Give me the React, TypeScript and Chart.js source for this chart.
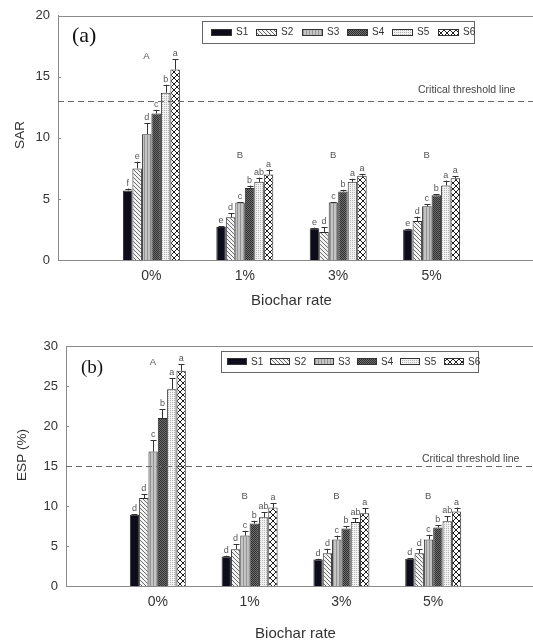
import React, { useEffect, useRef } from 'react';
import { Chart, registerables } from 'chart.js';

Chart.register(...registerables);

// ---------- data ----------
const categories = ['', '0%', '1%', '3%', '5%', ''];
const seriesNames = ['S1', 'S2', 'S3', 'S4', 'S5', 'S6'];
const groupLetters = ['A', 'B', 'B', 'B'];

// SAR (panel a), values per biochar rate 0%,1%,3%,5%
const sarS1 = [5.7, 2.7, 2.6, 2.5];
const sarS2 = [7.5, 3.5, 2.3, 3.2];
const sarS3 = [10.3, 4.7, 4.7, 4.4];
const sarS4 = [12.0, 5.9, 5.6, 5.3];
const sarS5 = [13.7, 6.4, 6.4, 6.1];
const sarS6 = [15.6, 7.0, 6.9, 6.7];
const sarErrS1 = [0.15, 0.05, 0.05, 0.05];
const sarErrS2 = [0.55, 0.35, 0.4, 0.35];
const sarErrS3 = [0.9, 0.05, 0.05, 0.15];
const sarErrS4 = [0.3, 0.2, 0.15, 0.1];
const sarErrS5 = [0.65, 0.35, 0.25, 0.4];
const sarErrS6 = [0.85, 0.4, 0.15, 0.15];
const sarLetS1 = ['f', 'e', 'e', 'e'];
const sarLetS2 = ['e', 'd', 'd', 'd'];
const sarLetS3 = ['d', 'c', 'c', 'c'];
const sarLetS4 = ['c', 'b', 'b', 'b'];
const sarLetS5 = ['b', 'ab', 'a', 'a'];
const sarLetS6 = ['a', 'a', 'a', 'a'];
const sarGroupLetterY = [16.7, 8.6, 8.6, 8.6];
const sarThreshold = 13;
const sarTicks = [0, 5, 10, 15, 20];

// ESP (panel b)
const espS1 = [8.9, 3.7, 3.3, 3.4];
const espS2 = [11.0, 4.6, 4.1, 4.1];
const espS3 = [16.8, 6.3, 5.8, 5.8];
const espS4 = [21.0, 7.8, 7.2, 7.3];
const espS5 = [24.6, 8.6, 8.0, 8.1];
const espS6 = [26.9, 9.8, 9.1, 9.3];
const espErrS1 = [0.1, 0.1, 0.1, 0.1];
const espErrS2 = [0.5, 0.6, 0.55, 0.5];
const espErrS3 = [1.4, 0.6, 0.5, 0.6];
const espErrS4 = [1.1, 0.35, 0.3, 0.3];
const espErrS5 = [1.4, 0.6, 0.45, 0.6];
const espErrS6 = [0.8, 0.55, 0.6, 0.5];
const espLetS1 = ['d', 'd', 'd', 'd'];
const espLetS2 = ['d', 'd', 'd', 'd'];
const espLetS3 = ['c', 'c', 'c', 'c'];
const espLetS4 = ['b', 'b', 'b', 'b'];
const espLetS5 = ['a', 'ab', 'ab', 'ab'];
const espLetS6 = ['a', 'a', 'a', 'a'];
const espGroupLetterY = [28.0, 11.2, 11.2, 11.2];
const espThreshold = 15;
const espTicks = [0, 5, 10, 15, 20, 25, 30];

const SANS = '"Liberation Sans", Arial, Helvetica, sans-serif';
const SERIF = '"Liberation Serif", "Times New Roman", serif';

// ---------- patterns ----------
function makePattern(kind: string): any {
  if (kind === 'solid') return '#0c0c1a';
  const c = document.createElement('canvas');
  const g = c.getContext('2d') as CanvasRenderingContext2D;
  if (kind === 'diag') {
    c.width = 4; c.height = 4;
    g.fillStyle = '#f4f4f4'; g.fillRect(0, 0, 4, 4);
    g.strokeStyle = '#6a6a6a'; g.lineWidth = 1;
    g.beginPath();
    g.moveTo(-1, -1); g.lineTo(5, 5);
    g.moveTo(-1, 3); g.lineTo(1, 5);
    g.moveTo(3, -1); g.lineTo(5, 1);
    g.stroke();
  } else if (kind === 'vert') {
    c.width = 3; c.height = 1;
    g.fillStyle = '#c4c4c4'; g.fillRect(0, 0, 3, 1);
    g.fillStyle = '#949494'; g.fillRect(0, 0, 1, 1);
  } else if (kind === 'dark') {
    c.width = 2; c.height = 2;
    g.fillStyle = '#707070'; g.fillRect(0, 0, 2, 2);
    g.fillStyle = '#2e2e2e'; g.fillRect(0, 0, 1, 1); g.fillRect(1, 1, 1, 1);
  } else if (kind === 'dots') {
    c.width = 2; c.height = 2;
    g.fillStyle = '#f2f2f2'; g.fillRect(0, 0, 2, 2);
    g.fillStyle = '#b4b4b4'; g.fillRect(0, 0, 1, 1);
  } else if (kind === 'cross') {
    c.width = 6; c.height = 6;
    g.fillStyle = '#ffffff'; g.fillRect(0, 0, 6, 6);
    g.strokeStyle = '#1e1e1e'; g.lineWidth = 1;
    g.beginPath();
    g.moveTo(0, 0); g.lineTo(6, 6);
    g.moveTo(6, 0); g.lineTo(0, 6);
    g.stroke();
  }
  return g.createPattern(c, 'repeat');
}
const patternKinds = ['solid', 'diag', 'vert', 'dark', 'dots', 'cross'];

interface PanelCfg {
  values: number[][];
  errors: number[][];
  letters: string[][];
  groupLetterY: number[];
  threshold: number;
  ticks: number[];
  yTitle: string;
  panelLabel: string;
  height: number;
  top: number;
  padTop: number;
  left: number;
  right: number;
  xAxisH: number;
  xTitlePad: number;
  yTitlePos: [number, number];
  labelPos: [number, number, number];
  threshTextPos: [number, number];
  legend: { x: number; y: number; w: number; h: number; x0: number; step: number; sw: number; sh: number; tdx: number };
}

const sarCfg: PanelCfg = {
  values: [sarS1, sarS2, sarS3, sarS4, sarS5, sarS6],
  errors: [sarErrS1, sarErrS2, sarErrS3, sarErrS4, sarErrS5, sarErrS6],
  letters: [sarLetS1, sarLetS2, sarLetS3, sarLetS4, sarLetS5, sarLetS6],
  groupLetterY: sarGroupLetterY,
  threshold: sarThreshold,
  ticks: sarTicks,
  yTitle: 'SAR',
  panelLabel: '(a)',
  height: 320,
  top: 0,
  padTop: 15,
  left: 58,
  right: 528,
  xAxisH: 60,
  xTitlePad: 10,
  yTitlePos: [20, 135],
  labelPos: [72, 36, 22],
  threshTextPos: [418, 90],
  legend: { x: 202, y: 21, w: 272, h: 22, x0: 211, step: 45.3, sw: 21, sh: 7, tdx: 25 },
};

const espCfg: PanelCfg = {
  values: [espS1, espS2, espS3, espS4, espS5, espS6],
  errors: [espErrS1, espErrS2, espErrS3, espErrS4, espErrS5, espErrS6],
  letters: [espLetS1, espLetS2, espLetS3, espLetS4, espLetS5, espLetS6],
  groupLetterY: espGroupLetterY,
  threshold: espThreshold,
  ticks: espTicks,
  yTitle: 'ESP (%)',
  panelLabel: '(b)',
  height: 323,
  top: 320,
  padTop: 26,
  left: 66,
  right: 527,
  xAxisH: 57,
  xTitlePad: 0,
  yTitlePos: [22, 135],
  labelPos: [81, 48, 19],
  threshTextPos: [422, 139],
  legend: { x: 221, y: 31, w: 257, h: 21, x0: 227, step: 43.3, sw: 20, sh: 7, tdx: 24 },
};

function makeAnnotPlugin(cfg: PanelCfg) {
  return {
    id: 'annot',
    afterDatasetsDraw(chart: any) {
      const ctx: CanvasRenderingContext2D = chart.ctx;
      const area = chart.chartArea;
      const xs = chart.scales.x;
      const ys = chart.scales.y;
      const W = chart.width;
      ctx.save();

      // frame extension: top line and axis extension to the right edge
      ctx.strokeStyle = '#8a8a8a';
      ctx.lineWidth = 1;
      ctx.beginPath();
      ctx.moveTo(area.left, Math.round(area.top) + 0.5);
      ctx.lineTo(W, Math.round(area.top) + 0.5);
      ctx.moveTo(area.right, Math.round(area.bottom) + 0.5);
      ctx.lineTo(W, Math.round(area.bottom) + 0.5);
      ctx.stroke();

      // inward y ticks
      ctx.beginPath();
      ys.ticks.forEach((t: any) => {
        const y = Math.round(ys.getPixelForValue(t.value)) + 0.5;
        ctx.moveTo(area.left, y);
        ctx.lineTo(area.left + 3, y);
      });
      ctx.stroke();

      // error bars and letters
      chart.data.datasets.forEach((ds: any, i: number) => {
        const meta = chart.getDatasetMeta(i);
        meta.data.forEach((bar: any, j: number) => {
          const v = ds.data[j];
          if (v === null || v === undefined) return;
          const k = j - 1;
          const e = cfg.errors[i][k];
          const top = ys.getPixelForValue(v + e);
          const half = bar.width * 0.32;
          const bx = Math.round(bar.x) + 0.5;
          ctx.strokeStyle = '#333';
          ctx.lineWidth = 1;
          ctx.beginPath();
          ctx.moveTo(bx, bar.y);
          ctx.lineTo(bx, top);
          ctx.moveTo(bx - half, Math.round(top) + 0.5);
          ctx.lineTo(bx + half, Math.round(top) + 0.5);
          ctx.stroke();
          ctx.fillStyle = '#555';
          ctx.font = '9px ' + SANS;
          ctx.textAlign = 'center';
          ctx.textBaseline = 'bottom';
          ctx.fillText(cfg.letters[i][k], bar.x, top - 1);
        });
      });

      // group letters
      ctx.fillStyle = '#555';
      ctx.font = '9.5px ' + SANS;
      ctx.textAlign = 'center';
      ctx.textBaseline = 'middle';
      groupLetters.forEach((L, k) => {
        const x = xs.getPixelForValue(k + 1) - 5;
        const y = ys.getPixelForValue(cfg.groupLetterY[k]);
        ctx.fillText(L, x, y);
      });

      // threshold line
      const ty = Math.round(ys.getPixelForValue(cfg.threshold)) + 0.5;
      ctx.strokeStyle = '#6a6a6a';
      ctx.setLineDash([6, 4]);
      ctx.beginPath();
      ctx.moveTo(area.left, ty);
      ctx.lineTo(W, ty);
      ctx.stroke();
      ctx.setLineDash([]);
      ctx.fillStyle = '#444';
      ctx.font = '10.5px ' + SANS;
      ctx.textAlign = 'left';
      ctx.textBaseline = 'middle';
      ctx.fillText('Critical threshold line', cfg.threshTextPos[0], cfg.threshTextPos[1]);

      // panel label
      ctx.fillStyle = '#111';
      ctx.font = cfg.labelPos[2] + 'px ' + SERIF;
      ctx.textAlign = 'left';
      ctx.textBaseline = 'middle';
      ctx.fillText(cfg.panelLabel, cfg.labelPos[0], cfg.labelPos[1]);

      // y title
      ctx.save();
      ctx.translate(cfg.yTitlePos[0], cfg.yTitlePos[1]);
      ctx.rotate(-Math.PI / 2);
      ctx.fillStyle = '#333';
      ctx.font = '13.5px ' + SANS;
      ctx.textAlign = 'center';
      ctx.textBaseline = 'middle';
      ctx.fillText(cfg.yTitle, 0, 0);
      ctx.restore();

      // legend
      const lg = cfg.legend;
      ctx.fillStyle = '#fff';
      ctx.fillRect(lg.x, lg.y, lg.w, lg.h);
      ctx.strokeStyle = '#666';
      ctx.lineWidth = 1;
      ctx.strokeRect(lg.x + 0.5, lg.y + 0.5, lg.w, lg.h);
      const cy = lg.y + lg.h / 2;
      chart.data.datasets.forEach((ds: any, i: number) => {
        const sx = Math.round(lg.x0 + i * lg.step);
        const sy = Math.round(cy - lg.sh / 2);
        ctx.fillStyle = ds.backgroundColor;
        ctx.fillRect(sx, sy, lg.sw, lg.sh);
        ctx.strokeStyle = '#333';
        ctx.strokeRect(sx + 0.5, sy + 0.5, lg.sw - 1, lg.sh - 1);
        ctx.fillStyle = '#333';
        ctx.font = '10px ' + SANS;
        ctx.textAlign = 'left';
        ctx.textBaseline = 'middle';
        ctx.fillText(ds.label, sx + lg.tdx, cy + 0.5);
      });

      ctx.restore();
    },
  };
}

function Panel({ cfg }: { cfg: PanelCfg }) {
  const ref = useRef<HTMLCanvasElement | null>(null);
  useEffect(() => {
    if (!ref.current) return;
    const datasets = seriesNames.map((name, i) => ({
      label: name,
      data: [null, ...cfg.values[i], null],
      backgroundColor: makePattern(patternKinds[i]),
      borderColor: '#2a2a2a',
      borderWidth: 1,
      categoryPercentage: 0.61,
      barPercentage: 1.0,
    }));
    const yMax = cfg.ticks[cfg.ticks.length - 1];
    const chart = new Chart(ref.current, {
      type: 'bar',
      data: { labels: categories, datasets: datasets as any },
      options: {
        responsive: false,
        maintainAspectRatio: false,
        animation: false,
        layout: { padding: { top: cfg.padTop, right: 533 - cfg.right, left: 0, bottom: 0 } },
        plugins: {
          legend: { display: false },
          tooltip: { enabled: false },
        },
        scales: {
          x: {
            offset: false,
            grid: { display: false, drawTicks: false, offset: false },
            border: { display: true, color: '#8a8a8a', width: 1 },
            ticks: { color: '#333', font: { size: 14, family: SANS }, padding: 8, autoSkip: false, maxRotation: 0 },
            title: {
              display: true,
              text: 'Biochar rate',
              color: '#333',
              font: { size: 15, family: SANS },
              padding: { top: 0, bottom: cfg.xTitlePad },
            },
            afterFit: (s: any) => { s.height = cfg.xAxisH; },
          },
          y: {
            min: 0,
            max: yMax,
            afterBuildTicks: (s: any) => { s.ticks = cfg.ticks.map((v) => ({ value: v })); },
            ticks: { color: '#333', font: { size: 13, family: SANS }, padding: 8 },
            grid: { display: false, drawTicks: false },
            border: { display: true, color: '#8a8a8a', width: 1 },
            afterFit: (s: any) => { s.width = cfg.left; },
          },
        },
      } as any,
      plugins: [makeAnnotPlugin(cfg)],
    });
    return () => chart.destroy();
  }, [cfg]);
  return (
    <canvas
      ref={ref}
      width={533}
      height={cfg.height}
      style={{ position: 'absolute', left: 0, top: cfg.top, width: 533, height: cfg.height }}
    />
  );
}

export default function App() {
  return (
    <div style={{ position: 'absolute', left: 0, top: 0, width: 533, height: 643, background: '#fff', overflow: 'hidden' }}>
      <Panel cfg={sarCfg} />
      <Panel cfg={espCfg} />
    </div>
  );
}
